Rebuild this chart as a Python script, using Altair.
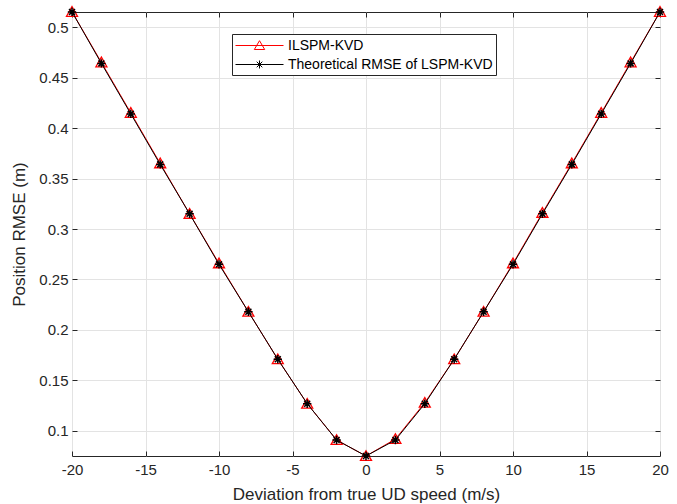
import altair as alt
import pandas as pd

x_vals = [-20, -18, -16, -14, -12, -10, -8, -6, -4, -2, 0, 2, 4, 6, 8, 10, 12, 14, 16, 18, 20]
ilspm = [0.515, 0.465, 0.415, 0.365, 0.315, 0.266, 0.218, 0.171, 0.127, 0.091, 0.0752,
         0.092, 0.128, 0.171, 0.218, 0.266, 0.316, 0.365, 0.415, 0.465, 0.515]
theory = [0.515, 0.464, 0.414, 0.364, 0.315, 0.265, 0.218, 0.171, 0.127, 0.091, 0.0752,
          0.091, 0.127, 0.171, 0.218, 0.265, 0.315, 0.364, 0.414, 0.464, 0.515]
series_names = ["ILSPM-KVD", "Theoretical RMSE of LSPM-KVD"]
series_colors = ["#ff0000", "#000000"]
x_ticks = [-20, -15, -10, -5, 0, 5, 10, 15, 20]
y_ticks = [0.1, 0.15, 0.2, 0.25, 0.3, 0.35, 0.4, 0.45, 0.5]

df = pd.concat([
    pd.DataFrame({"x": x_vals, "y": ilspm, "series": series_names[0]}),
    pd.DataFrame({"x": x_vals, "y": theory, "series": series_names[1]}),
])

FONT = "Liberation Sans"
AX = "#262626"
xs = alt.Scale(domain=[-20, 20], nice=False, zero=False)
ys = alt.Scale(domain=[0.0752, 0.5149], nice=False, zero=False)

x_main = alt.X("x:Q", scale=xs, title="Deviation from true UD speed (m/s)",
               axis=alt.Axis(values=x_ticks, orient="bottom", grid=True, offset=-5,
                             labelExpr="'' + datum.value", labelFlush=False,
                             labelPadding=6, titlePadding=9))
y_main = alt.Y("y:Q", scale=ys, title="Position RMSE (m)",
               axis=alt.Axis(values=y_ticks, orient="left", grid=True, offset=-5,
                             labelExpr="'' + round(datum.value * 100) / 100", labelFlush=False,
                             labelPadding=4, titlePadding=10))
x_none = alt.X("x:Q", scale=xs, axis=None)
y_none = alt.Y("y:Q", scale=ys, axis=None)
x_top = alt.X("x:Q", scale=xs, title=None,
              axis=alt.Axis(values=x_ticks, orient="top", grid=False, labels=False, offset=-5))
y_right = alt.Y("y:Q", scale=ys, title=None,
                axis=alt.Axis(values=y_ticks, orient="right", grid=False, labels=False, offset=-5))

base = alt.Chart(df)

tri = "M0,-0.95L1,0.8L-1,0.8Z"
star = "M-0.8,0L0.8,0M0,-0.8L0,0.8M-0.57,-0.57L0.57,0.57M-0.57,0.57L0.57,-0.57"

red = base.transform_filter(alt.datum.series == series_names[0])
blk = base.transform_filter(alt.datum.series == series_names[1])

red_line = red.mark_line(color="#ff0000", strokeWidth=1).encode(x=x_main, y=y_main)
red_pts = red.mark_point(shape=tri, filled=False, color="#ff0000", size=121, strokeWidth=1.3,
                         opacity=1).encode(x=x_none, y=y_none)
blk_line = blk.mark_line(color="#000000", strokeWidth=1).encode(x=x_none, y=y_none)
blk_pts = blk.mark_point(shape=star, filled=False, color="#000000", size=110, strokeWidth=1.5,
                         opacity=1).encode(x=x_none, y=y_none)

leg_red = "M-1,0L5,0M2,-0.6L2.65,0.5L1.35,0.5Z"
leg_blk = "M-1,0L5,0M1.5,0L2.5,0M2,-0.5L2,0.5M1.65,-0.35L2.35,0.35M1.65,0.35L2.35,-0.35"

leg = alt.Legend(title=None, orient="none", legendX=160, legendY=22,
                 symbolSize=256, labelOffset=36, padding=3, rowPadding=3,
                 strokeColor=AX, fillColor="#ffffff",
                 labelFont=FONT, labelFontSize=14, labelColor="#000000",
                 symbolStrokeWidth=1, labelLimit=400)

legend_layer = base.transform_filter("false").mark_point(filled=False, strokeWidth=1, opacity=1).encode(
    x=x_top, y=y_right,
    color=alt.Color("series:N", scale=alt.Scale(domain=series_names, range=series_colors), legend=leg),
    shape=alt.Shape("series:N", scale=alt.Scale(domain=series_names, range=[leg_red, leg_blk]), legend=leg),
)

chart = alt.layer(red_line, red_pts, blk_line, blk_pts, legend_layer).resolve_axis(
    x="independent", y="independent"
).properties(
    width=588, height=444,
    autosize=alt.AutoSizeParams(type="none"),
    padding={"left": 72, "top": 12, "right": 17, "bottom": 48},
).configure_view(
    stroke=AX, strokeWidth=1
).configure_axis(
    domain=False, ticks=True, tickColor=AX, tickSize=5, tickWidth=1, tickOpacity=1,
    gridColor="#e3e3e3", gridWidth=1,
    labelFont=FONT, labelFontSize=15, labelColor=AX,
    titleFont=FONT, titleFontSize=17, titleColor=AX, titleFontWeight="normal",
).configure_legend(
    cornerRadius=0, strokeWidth=1
)

chart.save("out.html", embed_options={"renderer": "svg", "actions": False})
